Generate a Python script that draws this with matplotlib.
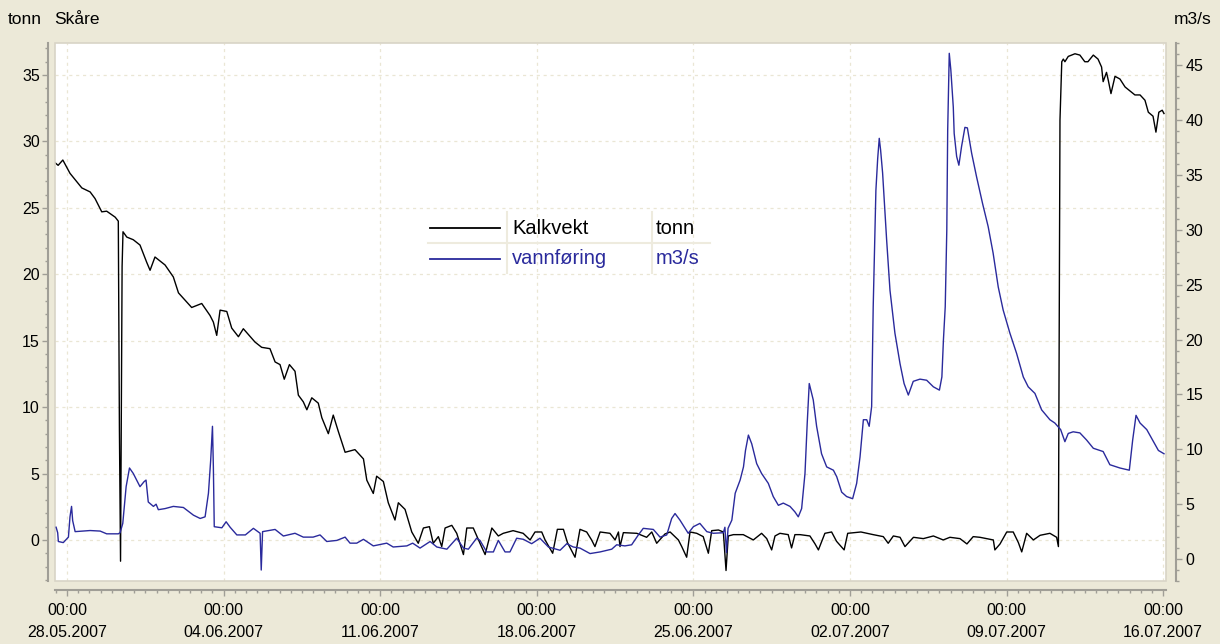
import matplotlib
matplotlib.use("Agg")
import matplotlib.pyplot as plt
import matplotlib.dates as mdates
from matplotlib.ticker import MultipleLocator, FixedLocator
from matplotlib.lines import Line2D
from matplotlib.patches import Rectangle
import pandas as pd

plt.rcParams['font.family'] = ['Liberation Sans', 'DejaVu Sans']

# ---------------- data (days after 28.05.2007 00:00) ----------------
start = pd.Timestamp('2007-05-28 00:00')

kalk_days = [-0.54, -0.40, -0.19, 0.13, 0.66, 1.03, 1.25, 1.55, 1.77, 2.15, 2.29, 2.34, 2.39, 2.46, 2.50,
             2.67, 2.96, 3.26, 3.56, 3.71, 3.93, 4.38, 4.75, 4.98, 5.57, 6.02, 6.39, 6.54, 6.69, 6.84,
             7.14, 7.36, 7.66, 7.88, 8.40, 8.70, 9.07, 9.30, 9.52, 9.71, 9.94, 10.19, 10.34, 10.56, 10.72,
             10.94, 11.23, 11.39, 11.68, 11.90, 12.13, 12.43, 12.87, 13.25, 13.40, 13.69, 13.84, 14.14,
             14.36, 14.66, 14.81, 15.11, 15.41, 15.70, 15.93, 16.20, 16.37, 16.60, 16.75, 16.90, 17.20,
             17.42, 17.72, 17.87, 18.16, 18.46, 18.69, 18.99, 19.28, 19.50, 19.94, 20.39, 20.70, 20.92,
             21.22, 21.37, 21.71, 21.92, 22.19, 22.37, 22.71, 22.93, 23.23, 23.45, 23.60, 23.83, 24.27,
             24.50, 24.65, 24.72, 24.87, 25.47, 25.91, 26.14, 26.36, 26.73, 26.96, 27.33, 27.48, 27.70,
             27.85, 28.15, 28.44, 28.67, 28.82, 29.12, 29.34, 29.46, 29.56, 29.79, 30.23, 30.68, 31.05,
             31.28, 31.50, 31.65, 31.87, 32.24, 32.39, 32.54, 32.77, 33.21, 33.44, 33.59, 33.88, 34.18,
             34.40, 34.74, 34.90, 35.49, 36.04, 36.49, 36.71, 36.94, 37.24, 37.46, 37.84, 38.28, 38.73,
             39.17, 39.47, 39.92, 40.23, 40.51, 40.81, 41.41, 41.48, 41.71, 42.01, 42.30, 42.53, 42.68,
             42.90, 43.20, 43.50, 43.94, 44.24, 44.32, 44.36, 44.39, 44.47, 44.54, 44.61, 44.76, 45.06,
             45.28, 45.50, 45.64, 45.88, 46.09, 46.25, 46.32, 46.47, 46.55, 46.67, 46.85, 47.07, 47.30,
             47.52, 47.74, 47.97, 48.19, 48.34, 48.55, 48.68, 48.81, 48.96, 49.04]
kalk_tonn = [28.4, 28.2, 28.6, 27.6, 26.5, 26.2, 25.7, 24.7, 24.75, 24.3, 24.0, 8.3, -1.6, 20.6, 23.2,
             22.8, 22.6, 22.2, 20.9, 20.3, 21.3, 20.7, 19.8, 18.6, 17.5, 17.8, 16.9, 16.4, 15.4, 17.3,
             17.2, 15.95, 15.3, 15.9, 14.9, 14.5, 14.4, 13.4, 13.2, 12.1, 13.2, 12.7, 10.9, 10.4, 9.8,
             10.7, 10.3, 9.2, 8.0, 9.4, 8.15, 6.6, 6.8, 6.1, 4.5, 3.5, 4.8, 4.4,
             2.8, 1.5, 2.8, 2.3, 0.6, -0.25, 0.9, 1.0, -0.25, 0.25, -0.5, 0.9, 1.1,
             0.5, -1.1, 0.9, 0.9, -0.25, -1.1, 0.9, 0.3, 0.5, 0.7, 0.5, 0.0, 0.6,
             0.6, 0.0, -1.0, 0.8, 0.8, -0.2, -1.3, 0.8, 0.6, 0.0, -0.5, 0.6, 0.5,
             0.0, 0.6, -0.5, 0.55, 0.5, 0.2, 0.6, -0.25, 0.45, 0.6, 0.0, -0.5, -1.3,
             0.6, 0.5, 0.25, -1.0, 0.7, 0.75, 0.6, -2.3, 0.3, 0.4, 0.4, 0.0, 0.5,
             0.1, -0.75, 0.3, 0.5, 0.4, -0.6, 0.4, 0.4, 0.3, -0.3, -0.75, 0.5, 0.6,
             -0.1, -0.75, 0.5, 0.6, 0.4, 0.25, -0.25, 0.3, 0.2, -0.5, 0.2, 0.1, 0.3,
             0.0, 0.2, 0.1, -0.3, 0.25, 0.2, 0.0, -0.75, -0.3, 0.6, 0.6, -0.2, -0.9,
             0.5, 0.0, 0.35, 0.5, 0.2, -0.5, 17.55, 31.6, 36.0, 36.2, 36.0, 36.4, 36.6,
             36.5, 36.0, 36.0, 36.5, 36.2, 35.6, 34.5, 35.2, 34.6, 33.6, 34.9, 34.7, 34.1,
             33.8, 33.5, 33.5, 33.1, 32.2, 31.9, 30.7, 32.2, 32.35, 32.1]

flow_days = [-0.49, -0.42, -0.39, -0.17, 0.06, 0.13, 0.20, 0.25, 0.36, 1.03, 1.48, 1.77, 2.29, 2.37,
             2.49, 2.64, 2.79, 2.96, 3.26, 3.44, 3.53, 3.63, 3.86, 3.98, 4.08, 4.38, 4.75, 5.20, 5.65,
             5.95, 6.17, 6.32, 6.42, 6.50, 6.54, 6.58, 6.92, 7.11, 7.29, 7.59, 7.97, 8.33, 8.63, 8.68,
             8.74, 9.30, 9.67, 10.19, 10.56, 11.00, 11.31, 11.61, 12.06, 12.43, 12.65, 12.95, 13.25,
             13.69, 14.29, 14.58, 15.19, 15.45, 15.78, 16.23, 16.53, 16.98, 17.42, 17.72, 17.94, 18.31,
             18.46, 18.76, 19.06, 19.28, 19.58, 19.80, 20.10, 20.40, 20.77, 21.14, 21.52, 22.04, 22.34,
             22.63, 22.93, 23.38, 23.83, 24.35, 24.57, 24.94, 25.24, 25.54, 25.76, 26.21, 26.51, 26.81,
             27.03, 27.18, 27.40, 27.77, 28.00, 28.29, 28.60, 28.89, 29.34, 29.41, 29.48, 29.55, 29.72,
             29.87, 30.09, 30.24, 30.33, 30.46, 30.61, 30.83, 31.05, 31.35, 31.57, 31.80, 32.02, 32.32,
             32.54, 32.69, 32.84, 32.99, 33.09, 33.18, 33.36, 33.51, 33.73, 33.96, 34.26, 34.41, 34.63,
             34.85, 35.12, 35.30, 35.45, 35.60, 35.75, 35.86, 35.97, 36.04, 36.16, 36.24, 36.31, 36.37,
             36.46, 36.64, 36.79, 37.01, 37.24, 37.42, 37.61, 37.83, 38.13, 38.43, 38.73, 39.00, 39.11,
             39.18, 39.26, 39.33, 39.37, 39.44, 39.51, 39.62, 39.66, 39.77, 39.87, 39.99, 40.14, 40.25,
             40.44, 40.66, 40.93, 41.18, 41.40, 41.63, 41.85, 42.15, 42.45, 42.75, 42.97, 43.27, 43.57,
             43.94, 44.16, 44.42, 44.61, 44.76, 44.98, 45.28, 45.58, 45.88, 46.32, 46.62, 47.07, 47.49,
             47.64, 47.79, 47.97, 48.27, 48.57, 48.79, 49.04]
flow_m3s = [2.9, 2.4, 1.6, 1.5, 2.0, 3.85, 4.8, 3.5, 2.5, 2.6, 2.55, 2.3, 2.3, 2.4,
            3.25, 6.6, 8.3, 7.8, 6.6, 7.05, 7.2, 5.2, 4.8, 5.0, 4.5, 4.6, 4.8, 4.7, 4.0,
            3.7, 3.85, 6.0, 9.0, 12.1, 8.4, 2.95, 2.85, 3.4, 2.9, 2.2, 2.2, 2.8, 2.35, -1.0,
            2.5, 2.7, 2.1, 2.35, 2.0, 2.0, 2.2, 1.6, 1.7, 2.0, 1.45, 1.45, 1.8,
            1.2, 1.45, 1.1, 1.2, 1.45, 1.0, 1.6, 1.1, 0.9, 1.9, 1.0, 0.9, 1.9,
            1.7, 0.65, 0.65, 1.7, 0.65, 0.65, 1.9, 1.8, 1.4, 1.9, 1.1, 0.8, 1.4,
            1.1, 1.0, 0.5, 0.65, 0.9, 1.3, 1.2, 1.3, 2.2, 2.8, 2.7, 2.0, 2.2,
            3.7, 4.15, 3.55, 2.35, 2.95, 3.25, 2.5, 2.35, 2.4, 2.9, 0.6, 2.8, 3.55,
            6.0, 7.2, 8.4, 9.9, 11.3, 10.5, 8.7, 7.8, 6.9, 5.7, 4.9, 5.1, 4.8,
            4.3, 3.85, 4.6, 7.8, 12.4, 16.0, 14.5, 12.1, 9.6, 8.4, 8.1, 7.5, 6.1,
            5.7, 5.5, 6.9, 9.3, 12.7, 12.7, 12.1, 13.9, 23.0, 33.6, 36.5, 38.35, 37.3,
            35.2, 29.1, 24.5, 20.6, 17.8, 16.0, 14.95, 16.2, 16.4, 16.3, 15.7, 15.4, 16.6,
            20.0, 23.0, 30.0, 39.1, 46.1, 44.6, 41.2, 38.8, 36.7, 35.9, 37.6, 39.35, 39.3,
            37.0, 34.85, 32.4, 30.3, 27.9, 24.8, 22.7, 20.6, 18.75, 16.6, 15.7, 15.1, 13.6,
            12.7, 12.4, 11.8, 10.7, 11.45, 11.6, 11.5, 10.85, 10.1, 9.8, 8.6, 8.3, 8.1,
            10.85, 13.1, 12.4, 11.8, 10.7, 9.9, 9.6]

left_ticks = [0, 5, 10, 15, 20, 25, 30, 35]
right_ticks = [0, 5, 10, 15, 20, 25, 30, 35, 40, 45]
series_names = ["Kalkvekt", "vannføring"]
series_units = ["tonn", "m3/s"]

# ---------------- figure ----------------
W, H = 1220, 644
BG = '#ECE9D8'
BLUE = '#2A2A9C'
GRID = '#EAE6D4'
AXC = '#A09E96'

fig = plt.figure(figsize=(W / 100, H / 100), dpi=100, facecolor=BG)
L, R, T, B = 55, 1166, 43, 581
ax = fig.add_axes([L / W, 1 - B / H, (R - L) / W, (B - T) / H])
ax.set_facecolor('white')
ax2 = ax.twinx()

kx = [start + pd.Timedelta(days=d) for d in kalk_days]
fx = [start + pd.Timedelta(days=d) for d in flow_days]

ax.plot(kx, kalk_tonn, color='black', lw=1.0, zorder=3)
ax2.plot(fx, flow_m3s, color=BLUE, lw=1.0, zorder=3)

ax.set_xlim(start + pd.Timedelta(days=-0.54), start + pd.Timedelta(days=49.13))
ax.set_ylim(-3.09, 37.41)
ax2.set_ylim(-2.0, 47.04)

major_dates = pd.date_range(start, periods=8, freq='7D')
ax.xaxis.set_major_locator(FixedLocator(mdates.date2num(major_dates)))
ax.xaxis.set_minor_locator(mdates.HourLocator(byhour=[0, 12]))
ax.xaxis.set_major_formatter(mdates.DateFormatter('%H:%M\n%d.%m.%Y'))

ax.yaxis.set_major_locator(FixedLocator(left_ticks))
ax.yaxis.set_minor_locator(MultipleLocator(1))
ax2.yaxis.set_major_locator(FixedLocator(right_ticks))
ax2.yaxis.set_minor_locator(MultipleLocator(1))

ax.grid(True, which='major', color=GRID, linestyle=(0, (2.5, 3)), lw=0.9, zorder=0)
ax2.grid(False)

# spines
for s in ['top', 'right']:
    ax.spines[s].set_visible(False)
for s in ['top', 'left', 'bottom']:
    ax2.spines[s].set_visible(False)
ax.spines['left'].set_position(('outward', 5))
ax.spines['bottom'].set_position(('outward', 6.5))
ax2.spines['right'].set_position(('outward', 7.2))
for sp in [ax.spines['left'], ax.spines['bottom'], ax2.spines['right']]:
    sp.set_color(AXC)
    sp.set_linewidth(1.5)

ax.add_patch(Rectangle((0, 0), 1, 1, transform=ax.transAxes, fill=False,
                       edgecolor='#D8D4C6', lw=1.2, zorder=5, clip_on=False))

ax.tick_params(axis='both', which='major', direction='out', length=4, width=1, color=AXC,
               labelsize=11.5, labelcolor='black')
ax.tick_params(axis='both', which='minor', direction='out', length=2.5, width=1, color=AXC)
ax.tick_params(axis='y', which='major', pad=2)
ax.tick_params(axis='x', which='major', pad=5)
ax2.tick_params(axis='y', which='major', direction='out', length=4, width=1, color=AXC,
                labelsize=11.5, labelcolor='black', pad=3)
ax2.tick_params(axis='y', which='minor', direction='out', length=2.5, width=1, color=AXC)
for lab in ax.get_xticklabels():
    lab.set_linespacing(1.6)

# titles
fig.text(8 / W, 1 - 19 / H, 'tonn', fontsize=12.5, va='center', ha='left')
fig.text(54 / W, 1 - 19 / H, 'Skåre', fontsize=12.5, va='center', ha='left')
fig.text(1212 / W, 1 - 19 / H, 'm3/s', fontsize=12.5, va='center', ha='right')

# legend (table style)
def fx_(x):
    return x / W

def fy_(y):
    return 1 - y / H

sep = '#EEEBDE'
fig.add_artist(Line2D([fx_(428), fx_(710)], [fy_(243), fy_(243)], color=sep, lw=1.5))
fig.add_artist(Line2D([fx_(507), fx_(507)], [fy_(212), fy_(273)], color=sep, lw=1.5))
fig.add_artist(Line2D([fx_(652), fx_(652)], [fy_(212), fy_(273)], color=sep, lw=1.5))
rows = [(228, 'black'), (259, BLUE)]
for (yy, col), name, unit in zip(rows, series_names, series_units):
    fig.add_artist(Line2D([fx_(430), fx_(500)], [fy_(yy), fy_(yy)], color=col, lw=1.3))
    fig.text(fx_(512), fy_(yy), name, color=col, fontsize=14.5, va='center', ha='left')
    fig.text(fx_(656), fy_(yy), unit, color=col, fontsize=14.5, va='center', ha='left')

fig.savefig('out.png', dpi=100, facecolor=BG)
